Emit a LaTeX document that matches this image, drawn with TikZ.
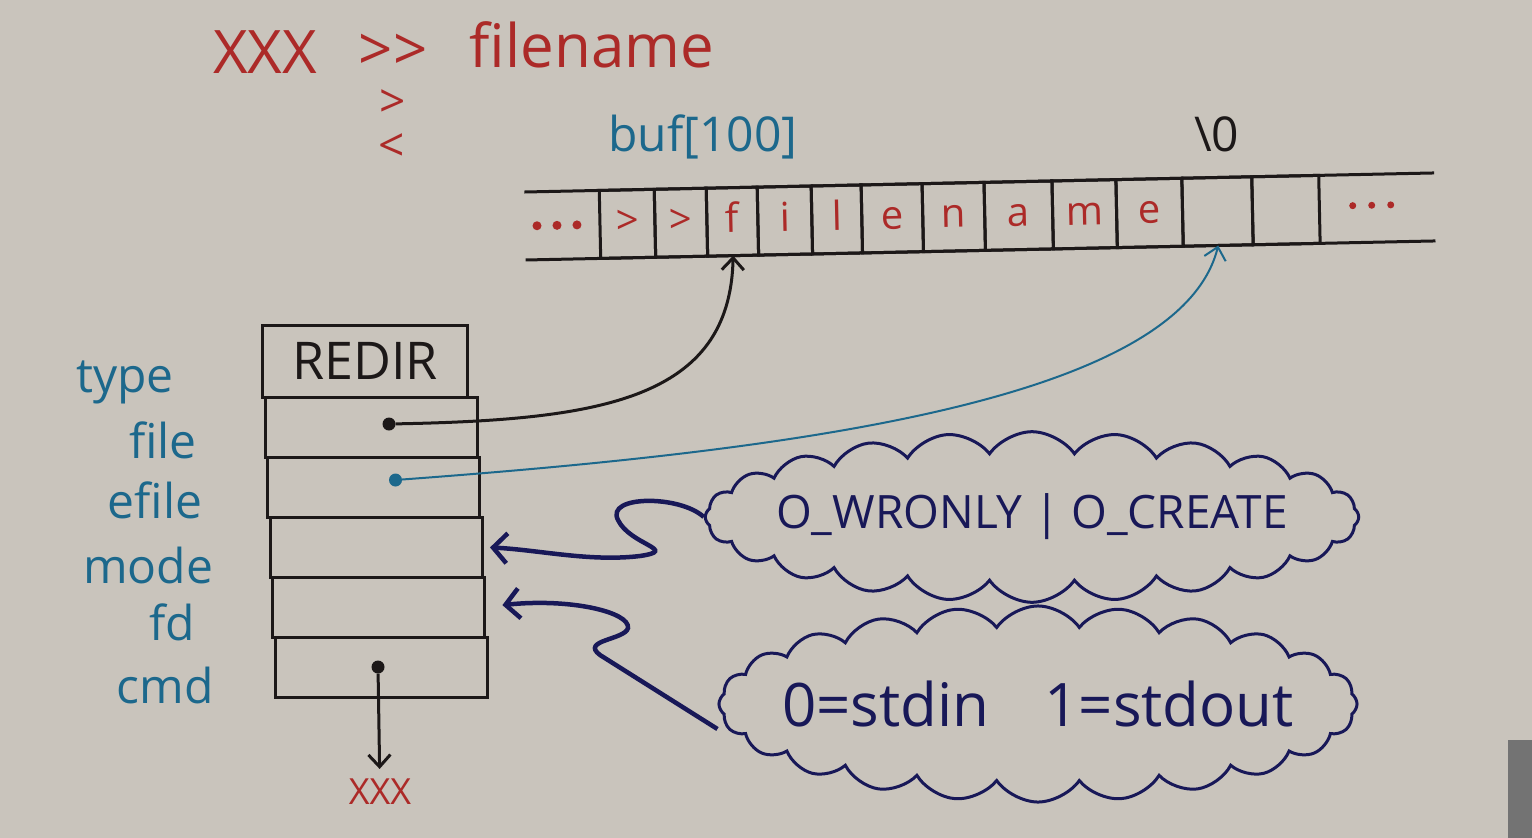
\documentclass[tikz,border=0pt]{standalone}
\usepackage{fontspec}
\setmainfont{Open Sans}
\usetikzlibrary{shapes.symbols, arrows.meta, positioning}
\definecolor{paper}{RGB}{201,196,188}
\definecolor{inkred}{RGB}{172,42,40}
\definecolor{inkteal}{RGB}{28,104,140}
\definecolor{inknavy}{RGB}{24,24,88}
\definecolor{inkblack}{RGB}{28,24,24}
\tikzstyle{title} = [text=inkred, inner sep=0pt, font=\fontsize{60}{60}\selectfont]
\tikzstyle{cell} = [rectangle, minimum height=68pt, inner sep=0pt, outer sep=0pt, draw=inkblack, line width=3pt, text=inkred, text height=21pt, text depth=0pt, font=\fontsize{40}{40}\selectfont]
\tikzstyle{row} = [rectangle, minimum width=212pt, minimum height=60pt, inner sep=0pt, outer sep=0pt, draw=inkblack, line width=3pt]
\tikzstyle{field} = [text=inkteal, inner sep=0pt, font=\fontsize{48}{48}\selectfont]
\tikzstyle{bubble} = [cloud, cloud puffs=24, cloud puff arc=110, inner ysep=0pt, draw=inknavy, line width=3pt, text=inknavy, font=\fontsize{46}{46}\selectfont]
\tikzstyle{ptr} = [circle, inner sep=0pt, minimum size=13pt]
\tikzstyle{arrow} = [line width=3pt, ->, >={Straight Barb[length=12pt, width=22pt]}]
\tikzstyle{navyarrow} = [line width=4.5pt, ->, >={Straight Barb[length=14pt, width=30pt]}, draw=inknavy]

\begin{document}
\begin{tikzpicture}[x=1pt, y=-1pt]
\fill[paper] (0,0) rectangle (1532,838);
\fill[black!55] (1508,740) rectangle (1532,838);
\useasboundingbox (0,0) rectangle (1532,838);

% command line
\node (cmdxxx) [title] at (265,52) {XXX};
\node (opapp) [title] at (393,52) {{>}{>}};
\node (fname) [title] at (592,45) {filename};
\node (opout) [title, font=\fontsize{46}{46}\selectfont] at (393,104) {>};
\node (opin) [title, font=\fontsize{46}{46}\selectfont] at (392,148) {<};

% the buffer
\node (bufname) [field] at (703,137) {buf[100]};
\begin{scope}[shift={(525,226)}, rotate=1.2, transform shape]
\coordinate (c0) at (75,0);
\foreach \ch/\w [count=\i, remember=\i as \j (initially 0)] in {{>}/55,{>}/52,f/51,i/54,l/50,e/61,n/62,a/68,m/64,e/66,{}/70,{}/67}
  \node (c\i) [cell, minimum width=\w pt, right=0pt of c\j] {\ch};
\draw[line width=3pt, inkblack] (0,-34) -- (910,-34);
\draw[line width=3pt, inkblack] (0,34) -- (910,34);
\foreach \x in {12,32,52} \fill[inkred] (\x,0) circle (4.5pt);
\foreach \x in {828,847,866} \fill[inkred] (\x,-3) circle (3.5pt);
\end{scope}
\node (nul) [inner sep=0pt, text=inkblack, font=\fontsize{48}{48}\selectfont, above=25pt of c11] {\textbackslash 0};

% the REDIR struct
\node (rtype) [row, minimum width=205pt, minimum height=72pt, text=inkblack, font=\fontsize{52}{52}\selectfont] at (365,361) {REDIR};
\node (rfile) [row, below=0pt of rtype, xshift=6pt] {};
\node (refile) [row, below=0pt of rfile, xshift=2.5pt] {};
\node (rmode) [row, below=0pt of refile, xshift=2.5pt] {};
\node (rfd) [row, below=0pt of rmode, xshift=2.5pt] {};
\node (rcmd) [row, below=0pt of rfd, xshift=2.5pt] {};

\node (ltype) [field] at (125,382) {type};
\node (lfile) [field] at (163,440) {file};
\node (lefile) [field] at (155,500) {efile};
\node (lmode) [field] at (148,565) {mode};
\node (lfd) [field] at (172,622) {fd};
\node (lcmd) [field] at (165,685) {cmd};

\node (pfile) [ptr, fill=inkblack] at ([xshift=18pt, yshift=3pt]rfile.center) {};
\node (pefile) [ptr, fill=inkteal] at ([xshift=22pt, yshift=7pt]refile.center) {};
\node (pcmd) [ptr, fill=inkblack] at ([xshift=-3pt]rcmd.center) {};
\node (cmdval) [inner sep=0pt, text=inkred, font=\fontsize{36}{36}\selectfont] at (380,792) {XXX};

\draw [arrow, inkblack] (pfile) .. controls (600,420) and (730,400) .. (c3.south);
\draw [arrow, inkteal, line width=2pt] (pefile) .. controls (800,450) and (1180,400) .. (c11.south);
\draw [arrow, inkblack, shorten >=10pt] (pcmd) -- (cmdval);

% flags and descriptors
\node (flags) [bubble, aspect=5.1, inner xsep=-26pt] at (1032,517) {O\_WRONLY | O\_CREATE};
\node (fds) [bubble, aspect=4.1, inner xsep=-32pt, font=\fontsize{60}{60}\selectfont] at (1038,704) {0=stdin\hspace{55pt}1=stdout};

\draw [navyarrow, shorten >=8pt] (flags.west) .. controls (680,495) and (605,495) .. (618,520) .. controls (630,545) and (680,550) .. (640,556) .. controls (590,562) and (540,550) .. (rmode.east);
\draw [navyarrow, shorten >=18pt] ([yshift=-25pt]fds.west) -- (600,655) .. controls (580,640) and (625,640) .. (628,628) .. controls (630,612) and (570,598) .. (rfd.east);
\end{tikzpicture}
\end{document}
